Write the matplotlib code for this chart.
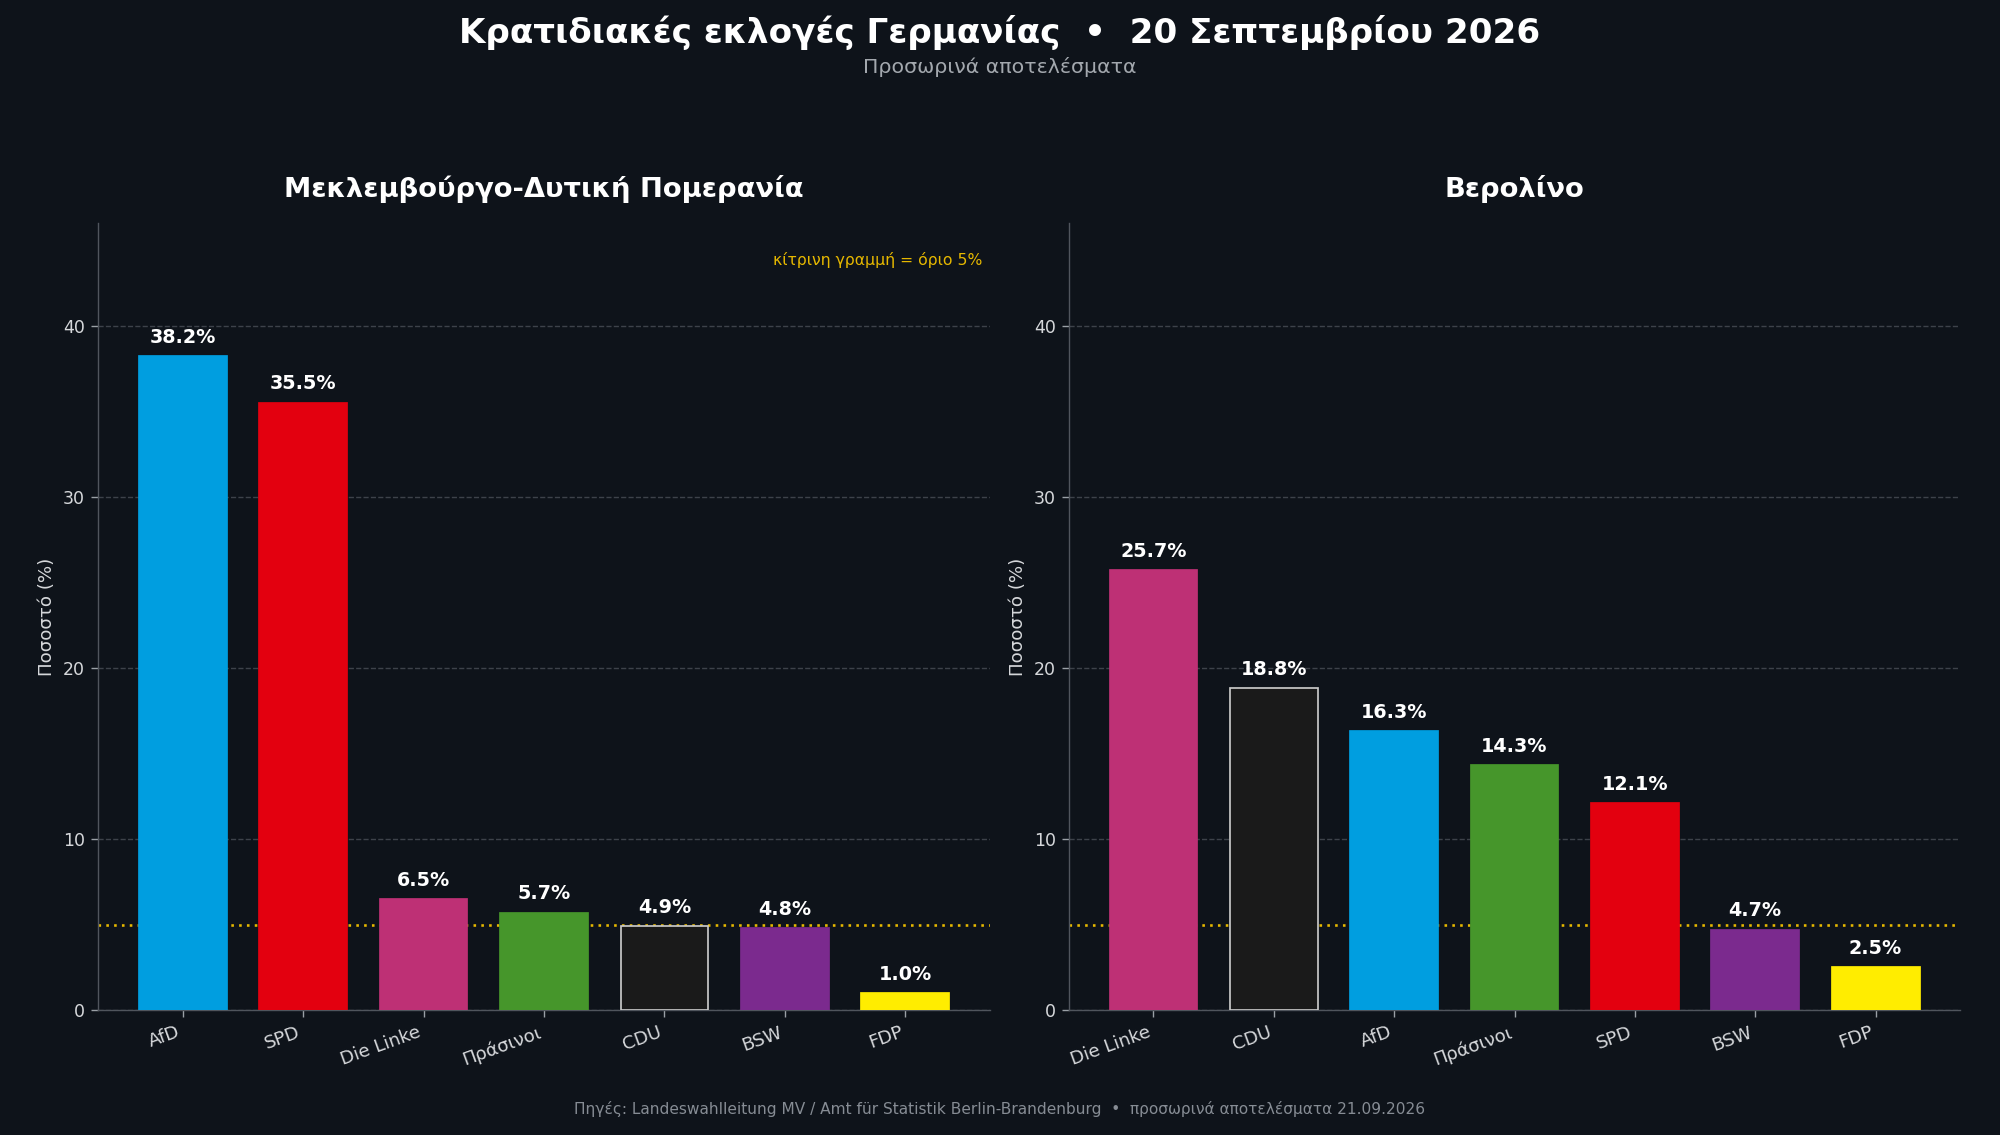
import matplotlib
matplotlib.use("Agg")
import matplotlib.pyplot as plt

plt.rcParams['font.family'] = ['DejaVu Sans']

# Data
mv_parties = ["AfD", "SPD", "Die Linke", "Πράσινοι", "CDU", "BSW", "FDP"]
mv_values = [38.2, 35.5, 6.5, 5.7, 4.9, 4.8, 1.0]
be_parties = ["Die Linke", "CDU", "AfD", "Πράσινοι", "SPD", "BSW", "FDP"]
be_values = [25.7, 18.8, 16.3, 14.3, 12.1, 4.7, 2.5]
threshold = 5
yticks = [0, 10, 20, 30, 40]

party_colors = {
    "AfD": "#009ee0",
    "SPD": "#e3000f",
    "Die Linke": "#be3075",
    "Πράσινοι": "#46962b",
    "CDU": "#1a1a1a",
    "BSW": "#7b2a8e",
    "FDP": "#ffed00",
}

BG = "#0e131a"
fig = plt.figure(figsize=(16, 9.08), dpi=125, facecolor=BG)
ax1 = fig.add_axes([0.049, 0.110, 0.446, 0.6935])
ax2 = fig.add_axes([0.5345, 0.110, 0.4455, 0.6935], sharey=ax1)

def draw(ax, parties, values, title):
    ax.set_facecolor(BG)
    x = list(range(len(parties)))
    cols = [party_colors[p] for p in parties]
    edges = ["#c8c8c8" if p == "CDU" else c for p, c in zip(parties, cols)]
    ax.bar(x, values, width=0.73, color=cols, edgecolor=edges, linewidth=1.0, zorder=3)
    ax.axhline(threshold, color="#e6b800", linestyle=(0, (1, 2)), linewidth=1.5, zorder=2)
    for xi, v in zip(x, values):
        ax.text(xi, v + 0.55, f"{v:.1f}%", ha="center", va="bottom", color="white",
                fontsize=11, fontweight="bold", zorder=4)
    ax.set_xticks(x)
    ax.set_xticklabels(parties, rotation=20, ha="right", rotation_mode="default",
                       color="#d6d8db", fontsize=10.5)
    ax.set_yticks(yticks)
    ax.set_ylim(0, 46.0)
    ax.tick_params(axis="y", colors="#d6d8db", labelsize=10)
    ax.tick_params(axis="both", color="#9aa0a6", length=4)
    ax.tick_params(axis="y", labelleft=True)
    ax.grid(axis="y", color="#4a4f57", linestyle="--", linewidth=0.8, alpha=0.8, zorder=0)
    ax.set_axisbelow(True)
    for s in ["top", "right"]:
        ax.spines[s].set_visible(False)
    for s in ["left", "bottom"]:
        ax.spines[s].set_color("#50555d")
    ax.set_ylabel("Ποσοστό (%)", color="#d6d8db", fontsize=10.5)
    ax.set_title(title, color="white", fontsize=15.8, fontweight="bold", pad=15)

draw(ax1, mv_parties, mv_values, "Μεκλεμβούργο-Δυτική Πομερανία")
draw(ax2, be_parties, be_values, "Βερολίνο")

ax1.text(0.991, 0.953, "κίτρινη γραμμή = όριο 5%", transform=ax1.transAxes,
         ha="right", va="center", color="#e6b800", fontsize=9)

fig.text(0.5, 0.971, "Κρατιδιακές εκλογές Γερμανίας  •  20 Σεπτεμβρίου 2026",
         ha="center", va="center", color="white", fontsize=19.7, fontweight="bold")
fig.text(0.5, 0.941, "Προσωρινά αποτελέσματα", ha="center", va="center",
         color="#a3a8ae", fontsize=11.8)
fig.text(0.5, 0.0225, "Πηγές: Landeswahlleitung MV / Amt für Statistik Berlin-Brandenburg  •  προσωρινά αποτελέσματα 21.09.2026",
         ha="center", va="center", color="#868c94", fontsize=8.85)

fig.savefig("out.png", dpi=125, facecolor=BG)
